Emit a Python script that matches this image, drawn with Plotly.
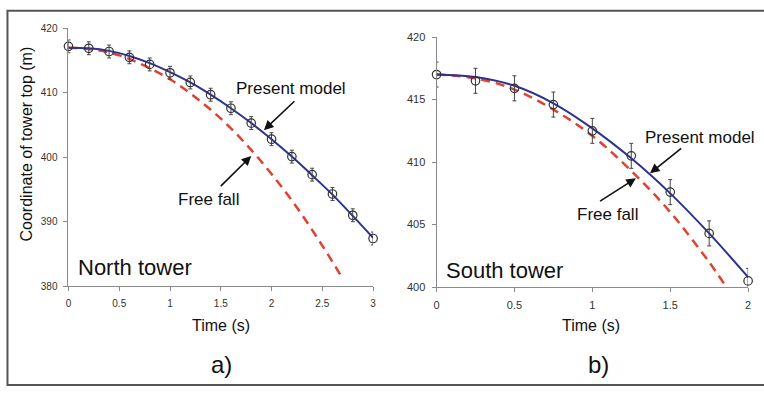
import plotly.graph_objects as go

# ---------------- data ----------------
# North tower (panel a)
north_t = [0, 0.2, 0.4, 0.6, 0.8, 1.0, 1.2, 1.4, 1.6, 1.8, 2.0, 2.2, 2.4, 2.6, 2.8, 3.0]
north_meas = [417.2, 416.9, 416.4, 415.5, 414.4, 413.1, 411.6, 409.7, 407.6, 405.3,
              402.8, 400.1, 397.3, 394.3, 391.0, 387.4]
north_err = [1.0] * len(north_t)
north_model = [417.0, 416.9, 416.5, 415.7, 414.6, 413.2, 411.6, 409.7, 407.6, 405.3,
               402.8, 400.1, 397.2, 394.2, 390.9, 387.5]
north_ff_t = [0, 0.25, 0.5, 0.75, 1.0, 1.25, 1.5, 1.75, 2.0, 2.25, 2.5, 2.7]
north_ff = [417.0, 416.7, 415.8, 414.2, 412.1, 409.3, 406.0, 402.0, 397.4, 392.2, 386.3, 381.2]

# South tower (panel b)
south_t = [0, 0.25, 0.5, 0.75, 1.0, 1.25, 1.5, 1.75, 2.0]
south_meas = [417.0, 416.5, 415.9, 414.6, 412.5, 410.5, 407.6, 404.3, 400.5]
south_err = [1.0] * len(south_t)
south_model = [417.0, 416.8, 416.1, 414.7, 412.7, 410.3, 407.5, 404.3, 400.8]
south_ff_t = [0, 0.25, 0.5, 0.75, 1.0, 1.25, 1.5, 1.75, 1.85]
south_ff = [417.0, 416.7, 415.8, 414.2, 412.1, 409.3, 406.0, 402.0, 400.2]

north_xticks = [0, 0.5, 1, 1.5, 2, 2.5, 3]
north_yticks = [380, 390, 400, 410, 420]
south_xticks = [0, 0.5, 1, 1.5, 2]
south_yticks = [400, 405, 410, 415, 420]

# ---------------- style ----------------
W, H = 764, 394
FONT = "Liberation Sans, Arial, sans-serif"
NAVY = "#2E3192"
RED = "#E4402E"
AXC = "#8a8a8a"
TXT = "#111111"

def px_x(p):
    return p / W

def px_y(p):
    return 1 - p / H

fig = go.Figure()

def add_panel(t, meas, err, model, fft, ff, xa, ya):
    fig.add_trace(go.Scatter(x=fft, y=ff, mode="lines", xaxis=xa, yaxis=ya,
                             line=dict(color=RED, width=2.5, dash="9px,6px", shape="spline"),
                             showlegend=False, hoverinfo="skip"))
    fig.add_trace(go.Scatter(x=t, y=model, mode="lines", xaxis=xa, yaxis=ya,
                             line=dict(color=NAVY, width=2, shape="spline"),
                             showlegend=False, hoverinfo="skip"))
    fig.add_trace(go.Scatter(x=t, y=meas, mode="markers", xaxis=xa, yaxis=ya,
                             marker=dict(symbol="circle-open", size=8.5,
                                         color="#333333", line=dict(width=1.2, color="#333333")),
                             error_y=dict(type="data", array=err, visible=True,
                                          color="#444444", thickness=1, width=2),
                             cliponaxis=False, showlegend=False))

add_panel(north_t, north_meas, north_err, north_model, north_ff_t, north_ff, "x", "y")
add_panel(south_t, south_meas, south_err, south_model, south_ff_t, south_ff, "x2", "y2")

def axis_style(size):
    return dict(showgrid=False, zeroline=False, showline=True, linecolor=AXC, linewidth=1,
                ticks="outside", ticklen=4, tickcolor=AXC, tickwidth=1,
                tickfont=dict(family=FONT, size=size, color="#333333"),
                fixedrange=True, ticklabelstandoff=4)

fig.update_layout(
    width=W, height=H, autosize=False,
    margin=dict(l=0, r=0, t=0, b=0),
    paper_bgcolor="white", plot_bgcolor="white",
    xaxis=dict(domain=[px_x(66), px_x(373)], range=[0, 3], tickvals=north_xticks,
               ticktext=[f"{v:g}" for v in north_xticks], anchor="y", **axis_style(10)),
    yaxis=dict(domain=[px_y(289), px_y(23)], range=[380, 420], tickvals=north_yticks,
               anchor="x", **axis_style(10)),
    xaxis2=dict(domain=[px_x(437), px_x(751)], range=[0, 2], tickvals=south_xticks,
                ticktext=[f"{v:g}" for v in south_xticks], anchor="y2", **axis_style(11)),
    yaxis2=dict(domain=[px_y(290), px_y(32)], range=[400, 420], tickvals=south_yticks,
                anchor="x2", **axis_style(11)),
)

def txt(text, x, y, size, xref="paper", yref="paper", xanchor="center", angle=0):
    fig.add_annotation(text=text, x=x, y=y, xref=xref, yref=yref, showarrow=False,
                       xanchor=xanchor, yanchor="middle", textangle=angle,
                       font=dict(family=FONT, size=size, color=TXT))

def arrow(x, y, ax, ay, xref, yref):
    fig.add_annotation(x=x, y=y, ax=ax, ay=ay, xref=xref, yref=yref, axref=xref, ayref=yref,
                       text="", showarrow=True, arrowhead=2, arrowsize=1.2, arrowwidth=1.6,
                       arrowcolor="#111111")

# panel a texts
txt("Present model", 2.19, 410.7, 17, "x", "y")
arrow(1.925, 404.2, 2.24, 408.9, "x", "y")
txt("Free fall", 1.38, 393.4, 17, "x", "y")
arrow(1.80, 400.2, 1.485, 395.3, "x", "y")
txt("North tower", 0.07, 382.9, 22, "x", "y", xanchor="left")
txt("Time (s)", px_x(220), px_y(330), 16)
txt("a)", px_x(220), px_y(370), 24)
txt("Coordinate of tower top (m)", px_x(24), px_y(142), 16, angle=-90)

# panel b texts
txt("Present model", 1.694, 412.0, 17, "x2", "y2")
arrow(1.37, 409.1, 1.58, 411.2, "x2", "y2")
txt("Free fall", 1.10, 405.8, 17, "x2", "y2")
arrow(1.28, 408.7, 1.04, 406.8, "x2", "y2")
txt("South tower", 0.05, 401.3, 22, "x2", "y2", xanchor="left")
txt("Time (s)", px_x(593), px_y(330), 16)
txt("b)", px_x(600), px_y(370), 24)

# outer frame
fig.add_shape(type="rect", xref="paper", yref="paper",
              x0=px_x(4.5), x1=1.02, y0=px_y(391), y1=px_y(5),
              line=dict(color="#555555", width=2), fillcolor="rgba(0,0,0,0)", layer="above")

fig.write_html("out.html", config={"displayModeBar": False},
               post_script="document.body.style.margin='0';document.body.style.overflow='hidden';")
